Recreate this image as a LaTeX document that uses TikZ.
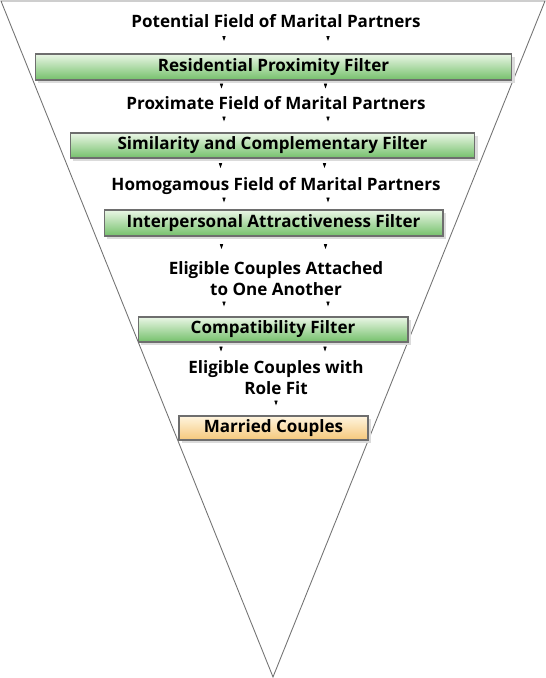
\documentclass[tikz,border=0pt]{standalone}
\usepackage{fontspec}
\newfontfamily\funnelfont{Open Sans}
\usepackage{tikz}
\usetikzlibrary{positioning,calc,arrows.meta,shadows,decorations.markings}
\definecolor{filtertop}{HTML}{EAF6E6}
\definecolor{filterbot}{HTML}{74C06A}
\definecolor{finaltop}{HTML}{FFF5DF}
\definecolor{finalbot}{HTML}{F5C77A}
\definecolor{edgegray}{HTML}{6E6E6E}

\begin{document}
\begin{tikzpicture}[x=0.02cm,y=-0.02cm,
  lbl/.style={font=\funnelfont\bfseries\fontsize{9.7}{12}\selectfont,inner sep=0pt,align=center},
  filter/.style={lbl,draw=edgegray,line width=0.6pt,top color=filtertop,bottom color=filterbot,
    drop shadow={shadow xshift=1.6pt,shadow yshift=-1.6pt,fill=black!14,opacity=1}},
  final/.style={filter,top color=finaltop,bottom color=finalbot},
  funnel/.style={draw=black!55,line width=0.5pt},
  tick/.style={decoration={markings,mark=at position 0.5 with {\arrow{Triangle[length=2.8pt,width=1.8pt]}}},postaction={decorate}}]
\useasboundingbox (0,0) rectangle (546,678);
\draw[funnel] (1,1) -- (545,1) -- (273,677) -- cycle;
\node (pot) at (276,28) [lbl,anchor=base] {Potential Field of Marital Partners};
\node (res) at (273.5,67) [filter,minimum width=9.54cm,minimum height=0.52cm] {Residential Proximity Filter};
\node (prox) at (276,110) [lbl,anchor=base] {Proximate Field of Marital Partners};
\node (sim) at (272.5,145.5) [filter,minimum width=8.1cm,minimum height=0.5cm] {Similarity and Complementary Filter};
\node (homo) at (276,191) [lbl,anchor=base] {Homogamous Field of Marital Partners};
\node (inter) at (273.5,223) [filter,minimum width=6.78cm,minimum height=0.52cm] {Interpersonal Attractiveness Filter};
\node (elig) at (276,279) [lbl] {Eligible Couples Attached\\to One Another};
\node (comp) at (273,329.5) [filter,minimum width=5.4cm,minimum height=0.5cm] {Compatibility Filter};
\node (role) at (276,378) [lbl] {Eligible Couples with\\Role Fit};
\node (mar) at (273.5,428) [final,minimum width=3.78cm,minimum height=0.48cm] {Married Couples};
\foreach \a/\b in {pot/res,res/prox,prox/sim,sim/homo,homo/inter,inter/elig,elig/comp,comp/role} {
  \foreach \dx in {-52,52} {
    \path[tick] ($(\a.south)+(\dx,0)$) -- ($(\a.south |- \b.north)+(\dx,0)$);
  }
}
\path[tick] (role.south) -- (role.south |- mar.north);
\end{tikzpicture}
\end{document}
